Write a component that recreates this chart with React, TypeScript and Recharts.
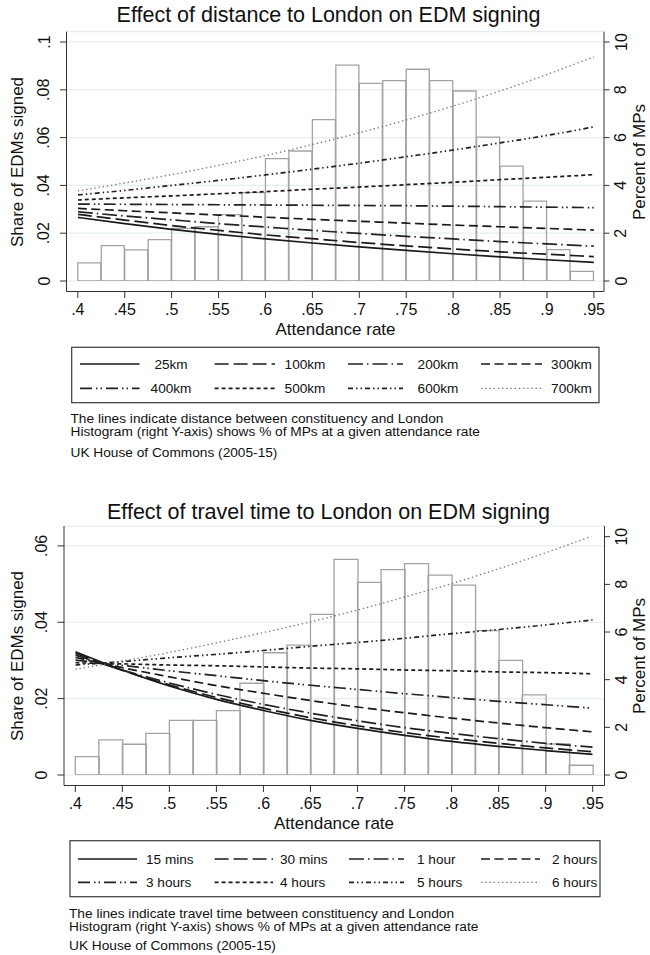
import React from 'react';
import { ComposedChart, Bar, Line, XAxis, YAxis, CartesianGrid } from 'recharts';

const FONT = '"Liberation Sans", Arial, Helvetica, sans-serif';

// ---------- data ----------
const attendance = [0.4, 0.45, 0.5, 0.55, 0.6, 0.65, 0.7, 0.75, 0.8, 0.85, 0.9, 0.95];
const attendanceTicks = [0.4, 0.45, 0.5, 0.55, 0.6, 0.65, 0.7, 0.75, 0.8, 0.85, 0.9, 0.95];
const histBins = ['.400', '.425', '.450', '.475', '.500', '.525', '.550', '.575', '.600', '.625', '.650',
  '.675', '.700', '.725', '.750', '.775', '.800', '.825', '.850', '.875', '.900', '.925'];

const histDistance = [0.76, 1.48, 1.3, 1.73, 2.2, 2.27, 2.78, 3.7, 5.12, 5.44, 6.75, 9.03, 8.27, 8.38, 8.86,
  8.38, 7.95, 6.02, 4.81, 3.34, 1.31, 0.4];
const histTravel = [0.77, 1.47, 1.29, 1.75, 2.29, 2.29, 2.7, 3.85, 5.13, 5.45, 6.74, 9.05, 8.08, 8.62, 8.87,
  8.39, 7.97, 6.06, 4.81, 3.36, 1.3, 0.41];

const distanceLabels = ['25km', '100km', '200km', '300km', '400km', '500km', '600km', '700km'];
const d25 = [0.0266, 0.024, 0.0216, 0.0195, 0.0176, 0.0159, 0.0143, 0.0128, 0.0114, 0.0101, 0.0089, 0.0078];
const d100 = [0.0279, 0.0255, 0.0232, 0.0212, 0.0193, 0.0177, 0.0161, 0.0147, 0.0134, 0.0122, 0.0112, 0.0102];
const d200 = [0.029, 0.0272, 0.0256, 0.024, 0.0226, 0.0212, 0.0199, 0.0187, 0.0176, 0.0165, 0.0155, 0.0146];
const d300 = [0.0304, 0.0294, 0.0285, 0.0276, 0.0267, 0.0258, 0.025, 0.0242, 0.0234, 0.0227, 0.022, 0.0213];
const d400 = [0.0322, 0.0321, 0.032, 0.0319, 0.0318, 0.0317, 0.0316, 0.0315, 0.0313, 0.0311, 0.0309, 0.0307];
const d500 = [0.0339, 0.0348, 0.0356, 0.0365, 0.0374, 0.0384, 0.0393, 0.0403, 0.0413, 0.0424, 0.0434, 0.0445];
const d600 = [0.036, 0.0379, 0.04, 0.0421, 0.0444, 0.0468, 0.0493, 0.052, 0.0548, 0.0578, 0.0609, 0.0645];
const d700 = [0.0377, 0.041, 0.0445, 0.0484, 0.0525, 0.0571, 0.062, 0.0674, 0.0732, 0.0795, 0.0864, 0.0938];

const travelLabels = ['15 mins', '30 mins', '1 hour', '2 hours', '3 hours', '4 hours', '5 hours', '6 hours'];
const t15m = [0.0323, 0.0275, 0.0233, 0.0198, 0.0169, 0.0143, 0.0122, 0.0104, 0.0088, 0.0075, 0.0064, 0.0054];
const t30m = [0.0319, 0.0274, 0.0236, 0.0203, 0.0175, 0.015, 0.0129, 0.0111, 0.0096, 0.0083, 0.0071, 0.0061];
const t1h = [0.0314, 0.0275, 0.0241, 0.0211, 0.0185, 0.0162, 0.0142, 0.0124, 0.0109, 0.0095, 0.0083, 0.0073];
const t2h = [0.0308, 0.0281, 0.0257, 0.0234, 0.0214, 0.0195, 0.0178, 0.0163, 0.0149, 0.0136, 0.0124, 0.0113];
const t3h = [0.0301, 0.0287, 0.0273, 0.026, 0.0247, 0.0235, 0.0224, 0.0213, 0.0203, 0.0193, 0.0184, 0.0175];
const t4h = [0.0294, 0.0291, 0.0288, 0.0286, 0.0283, 0.028, 0.0278, 0.0275, 0.0273, 0.027, 0.0268, 0.0265];
const t5h = [0.0288, 0.0297, 0.0307, 0.0316, 0.0326, 0.0337, 0.0347, 0.0358, 0.037, 0.0381, 0.0393, 0.0406];
const t6h = [0.0277, 0.0298, 0.0321, 0.0346, 0.0373, 0.0401, 0.0432, 0.0466, 0.0501, 0.054, 0.0582, 0.0626];

const distanceTicksLeft = [0, 0.02, 0.04, 0.06, 0.08, 0.1];
const travelTicksLeft = [0, 0.02, 0.04, 0.06];
const percentTicks = [0, 2, 4, 6, 8, 10];

const distanceNotes = [
  'The lines indicate distance between constituency and London',
  'Histogram (right Y-axis) shows % of MPs at a given attendance rate',
  'UK House of Commons (2005-15)',
];
const travelNotes = [
  'The lines indicate travel time between constituency and London',
  'Histogram (right Y-axis) shows % of MPs at a given attendance rate',
  'UK House of Commons (2005-15)',
];

// ---------- styles ----------
const lineStyles = [
  { dash: undefined, color: '#1a1a1a', width: 1.7 },
  { dash: '14 5', color: '#1a1a1a', width: 1.7 },
  { dash: '15 4 1.5 4', color: '#222', width: 1.7 },
  { dash: '9 4.5', color: '#1a1a1a', width: 1.7 },
  { dash: '12 4 1.5 3 1.5 4', color: '#222', width: 1.7 },
  { dash: '4 3', color: '#1a1a1a', width: 1.7 },
  { dash: '5 3 1.5 3 1.5 3', color: '#222', width: 1.7 },
  { dash: '1.4 2.8', color: '#777', width: 1.3 },
];

const AXIS = '#333';
const GRID = '#e2eef0';

const fmt = (v: number) => (v === 0 ? '0' : String(v).replace(/^0\./, '.'));

const LeftTick = (props: any) => {
  const { x, y, payload } = props;
  const cx = x - 6;
  return (
    <text x={cx} y={y} transform={`rotate(-90 ${cx} ${y})`} textAnchor="middle" dominantBaseline="central"
      fontSize={16} fill="#111" fontFamily={FONT}>{fmt(payload.value)}</text>
  );
};
const RightTick = (props: any) => {
  const { x, y, payload } = props;
  const cx = x + 6;
  return (
    <text x={cx} y={y} transform={`rotate(-90 ${cx} ${y})`} textAnchor="middle" dominantBaseline="central"
      fontSize={16} fill="#111" fontFamily={FONT}>{String(payload.value)}</text>
  );
};

type PanelProps = {
  top: number;
  hist: number[];
  series: number[][];
  leftTicks: number[];
  leftMax: number;
  plotTop: number;
  plotBottom: number;
  plotLeft: number;
  plotRight: number;
  padTop: number;
  padBottom: number;
  padLeft: number;
  padRight: number;
};

function Panel(p: PanelProps) {
  const H = 345;
  const xAxisH = 40;
  const binRows = histBins.map((b, i) => ({ bin: b, pct: p.hist[i] }));
  const lineRows = attendance.map((a, i) => {
    const r: any = { x: a };
    p.series.forEach((s, k) => { r['s' + k] = s[i]; });
    return r;
  });
  return (
    <div style={{ position: 'absolute', left: 0, top: p.top }}>
      <ComposedChart width={650} height={H} data={binRows} barCategoryGap={0} barGap={0}
        margin={{ top: p.plotTop, right: 0, left: 0, bottom: H - p.plotBottom - xAxisH }}>
        <CartesianGrid xAxisId="att" yAxisId="left" vertical={false} stroke={GRID} strokeWidth={1.2} />
        <XAxis xAxisId="bins" dataKey="bin" type="category" hide padding={{ left: p.padLeft, right: p.padRight }} />
        <XAxis xAxisId="att" dataKey="x" type="number" domain={[0.4, 0.95]} allowDataOverflow
          ticks={attendanceTicks} interval={0} tickFormatter={fmt} height={xAxisH}
          padding={{ left: p.padLeft, right: p.padRight }}
          tickSize={6.5} tickMargin={6} stroke={AXIS}
          tick={{ fontSize: 16, fill: '#111', fontFamily: FONT }} />
        <YAxis yAxisId="left" orientation="left" width={p.plotLeft} domain={[0, p.leftMax]} allowDataOverflow
          ticks={p.leftTicks} interval={0} padding={{ top: p.padTop, bottom: p.padBottom }}
          tickSize={6.5} tickMargin={10} stroke={AXIS} tick={<LeftTick />} />
        <YAxis yAxisId="right" orientation="right" width={650 - p.plotRight} domain={[0, 10]} allowDataOverflow
          ticks={percentTicks} interval={0} padding={{ top: p.padTop, bottom: p.padBottom }}
          tickSize={5.5} tickMargin={5.5} stroke={AXIS} tick={<RightTick />} />
        <Bar xAxisId="bins" yAxisId="right" dataKey="pct" fill="none" stroke="#a3a3a3" strokeWidth={1.3}
          isAnimationActive={false} />
        {p.series.map((_, k) => (
          <Line key={k} xAxisId="att" yAxisId="left" data={lineRows} dataKey={'s' + k} type="monotone"
            stroke={lineStyles[k].color} strokeWidth={lineStyles[k].width} strokeDasharray={lineStyles[k].dash}
            dot={false} activeDot={false} isAnimationActive={false} />
        ))}
      </ComposedChart>
    </div>
  );
}

type LegendProps = {
  box: [number, number, number, number];
  rows: [number, number];
  lines: [number, number][];
  labelX: number[];
  anchor: 'middle' | 'start';
  labels: string[];
};

function LegendBox(l: LegendProps) {
  const [x, y, w, h] = l.box;
  return (
    <g>
      <rect x={x} y={y} width={w} height={h} fill="#fff" stroke="#3a3a3a" strokeWidth={1.2} />
      {l.labels.map((lab, i) => {
        const row = Math.floor(i / 4);
        const col = i % 4;
        const ry = l.rows[row];
        const st = lineStyles[i];
        return (
          <g key={i}>
            <line x1={l.lines[col][0]} x2={l.lines[col][1]} y1={ry} y2={ry} stroke={st.color}
              strokeWidth={st.width} strokeDasharray={st.dash} />
            <text x={l.labelX[col]} y={ry} textAnchor={l.anchor} dominantBaseline="central" fontSize={13.6}
              fill="#111" fontFamily={FONT}>{lab}</text>
          </g>
        );
      })}
    </g>
  );
}

function Annotations() {
  const T = (props: any) => <text fill="#111" fontFamily={FONT} dominantBaseline="central" {...props} />;
  return (
    <svg width={650} height={955} style={{ position: 'absolute', left: 0, top: 0, pointerEvents: 'none' }}>
      {/* top panel */}
      <T x={328.5} y={15} fontSize={21.5} textAnchor="middle">Effect of distance to London on EDM signing</T>
      <T x={335.5} y={329} fontSize={17} textAnchor="middle">Attendance rate</T>
      <T x={17} y={162} fontSize={17} textAnchor="middle" transform="rotate(-90 17 162)">Share of EDMs signed</T>
      <T x={639} y={162} fontSize={17} textAnchor="middle" transform="rotate(-90 639 162)">Percent of MPs</T>
      <LegendBox box={[71.7, 347.3, 527.3, 55.4]} rows={[364, 388.3]}
        lines={[[80, 139.6], [214.6, 275], [348, 403], [481, 542]]} labelX={[171, 305, 438, 571.5]}
        anchor="middle" labels={distanceLabels} />
      <T x={70.5} y={418.3} fontSize={13.7}>{distanceNotes[0]}</T>
      <T x={70.5} y={431.7} fontSize={13.7}>{distanceNotes[1]}</T>
      <T x={70.5} y={452.3} fontSize={13.7}>{distanceNotes[2]}</T>

      {/* bottom panel */}
      <T x={328.5} y={511.7} fontSize={21.5} textAnchor="middle">Effect of travel time to London on EDM signing</T>
      <T x={334} y={823.3} fontSize={17} textAnchor="middle">Attendance rate</T>
      <T x={17} y={656} fontSize={17} textAnchor="middle" transform="rotate(-90 17 656)">Share of EDMs signed</T>
      <T x={639} y={656} fontSize={17} textAnchor="middle" transform="rotate(-90 639 656)">Percent of MPs</T>
      <LegendBox box={[70, 840.7, 530, 56]} rows={[859, 882.3]}
        lines={[[78, 137], [214.6, 273], [349, 404], [481, 540]]} labelX={[146, 280, 417, 552]}
        anchor="start" labels={travelLabels} />
      <T x={69} y={913.3} fontSize={13.7}>{travelNotes[0]}</T>
      <T x={69} y={926.7} fontSize={13.7}>{travelNotes[1]}</T>
      <T x={69} y={945.7} fontSize={13.7}>{travelNotes[2]}</T>
    </svg>
  );
}

export default function App() {
  return (
    <div style={{ position: 'absolute', left: 0, top: 0, width: 650, height: 955, background: '#fff', fontFamily: FONT }}>
      <Panel top={0} hist={histDistance} series={[d25, d100, d200, d300, d400, d500, d600, d700]}
        leftTicks={distanceTicksLeft} leftMax={0.1}
        plotTop={31.7} plotBottom={291.5} plotLeft={66.5} plotRight={604}
        padTop={10.3} padBottom={10.5} padLeft={11.3} padRight={10.1} />
      <Panel top={480} hist={histTravel} series={[t15m, t30m, t1h, t2h, t3h, t4h, t5h, t6h]}
        leftTicks={travelTicksLeft} leftMax={0.0624}
        plotTop={46} plotBottom={305.5} plotLeft={64} plotRight={604.5}
        padTop={10.7} padBottom={10.5} padLeft={11.3} padRight={11.8} />
      <Annotations />
    </div>
  );
}
